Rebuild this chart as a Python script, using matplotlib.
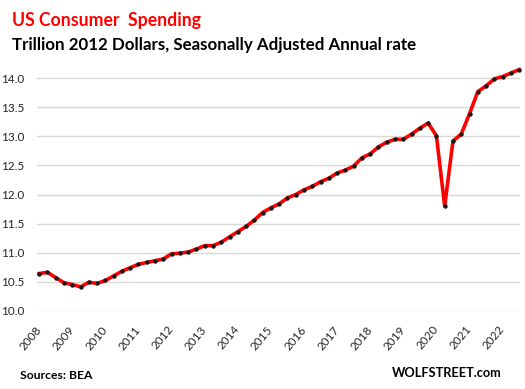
import matplotlib
matplotlib.use("Agg")
import matplotlib.pyplot as plt
import numpy as np

# Quarterly real PCE, trillion 2012 dollars, 2008Q1 .. 2022Q3
values = [10.64, 10.66, 10.57, 10.48, 10.45, 10.41, 10.49, 10.47,
          10.52, 10.60, 10.68, 10.74, 10.80, 10.83, 10.86, 10.89,
          10.98, 10.99, 11.01, 11.06, 11.12, 11.12, 11.18, 11.27,
          11.36, 11.45, 11.56, 11.69, 11.77, 11.84, 11.94, 12.00,
          12.08, 12.14, 12.22, 12.28, 12.37, 12.42, 12.49, 12.63,
          12.70, 12.82, 12.90, 12.95, 12.95, 13.04, 13.14, 13.23,
          13.01, 11.80, 12.92, 13.04, 13.39, 13.77, 13.87, 13.99,
          14.03, 14.09, 14.15]
years = [str(y) for y in range(2008, 2023)]
yticks = [10.0, 10.5, 11.0, 11.5, 12.0, 12.5, 13.0, 13.5, 14.0]

W, H = 525, 389
fig = plt.figure(figsize=(W / 100, H / 100), dpi=100)
plt.rcParams['font.family'] = ['Lato', 'DejaVu Sans']

def fx(px):
    return px / W

def fy(py):
    return 1 - py / H

ymin, ymax = 10.0, 14.2
ax = fig.add_axes([fx(36.7), fy(310.7), fx(520) - fx(36.7), fy(78.3 - 0.2 * 58.1) - fy(310.7)])

x = np.arange(len(values))
ax.plot(x, values, color='#ff0000', lw=2.6, solid_joinstyle='round', zorder=3, clip_on=False)
ax.plot(x, values, ls='none', marker='o', ms=2.2, color='#1a1a1a', zorder=4, clip_on=False)

ax.set_xlim(-0.3, 58.1)
ax.set_ylim(ymin, ymax)
ax.set_yticks(yticks)
ax.set_yticklabels([f"{v:.1f}" for v in yticks], fontsize=8.5, color='#262626')
ax.set_xticks(np.arange(0, len(values), 4)[:len(years)])
ax.set_xticklabels(years, rotation=50, ha='right', rotation_mode='anchor', va='center',
                   fontsize=8.5, color='#262626')
ax.tick_params(axis='y', length=0, pad=9)
ax.tick_params(axis='x', length=0, pad=12)
ax.grid(axis='y', color='#d9d9d9', lw=1.0)
ax.set_axisbelow(True)
for s in ax.spines.values():
    s.set_visible(False)

fig.text(fx(12), fy(26), "US Consumer  Spending", color='#ff0000', fontsize=12.7,
         fontweight='bold', va='baseline', ha='left')
fig.text(fx(12), fy(50), "Trillion 2012 Dollars, Seasonally Adjusted Annual rate", color='black',
         fontsize=12.2, fontweight='bold', va='baseline', ha='left')
fig.text(fx(20), fy(379), "Sources: BEA", color='black', fontsize=8.7, fontweight='bold',
         va='baseline', ha='left')
fig.text(fx(502), fy(376.7), "WOLFSTREET.com", color='black', fontsize=9.2, fontweight='bold',
         va='baseline', ha='right')

fig.savefig("out.png", dpi=100)
